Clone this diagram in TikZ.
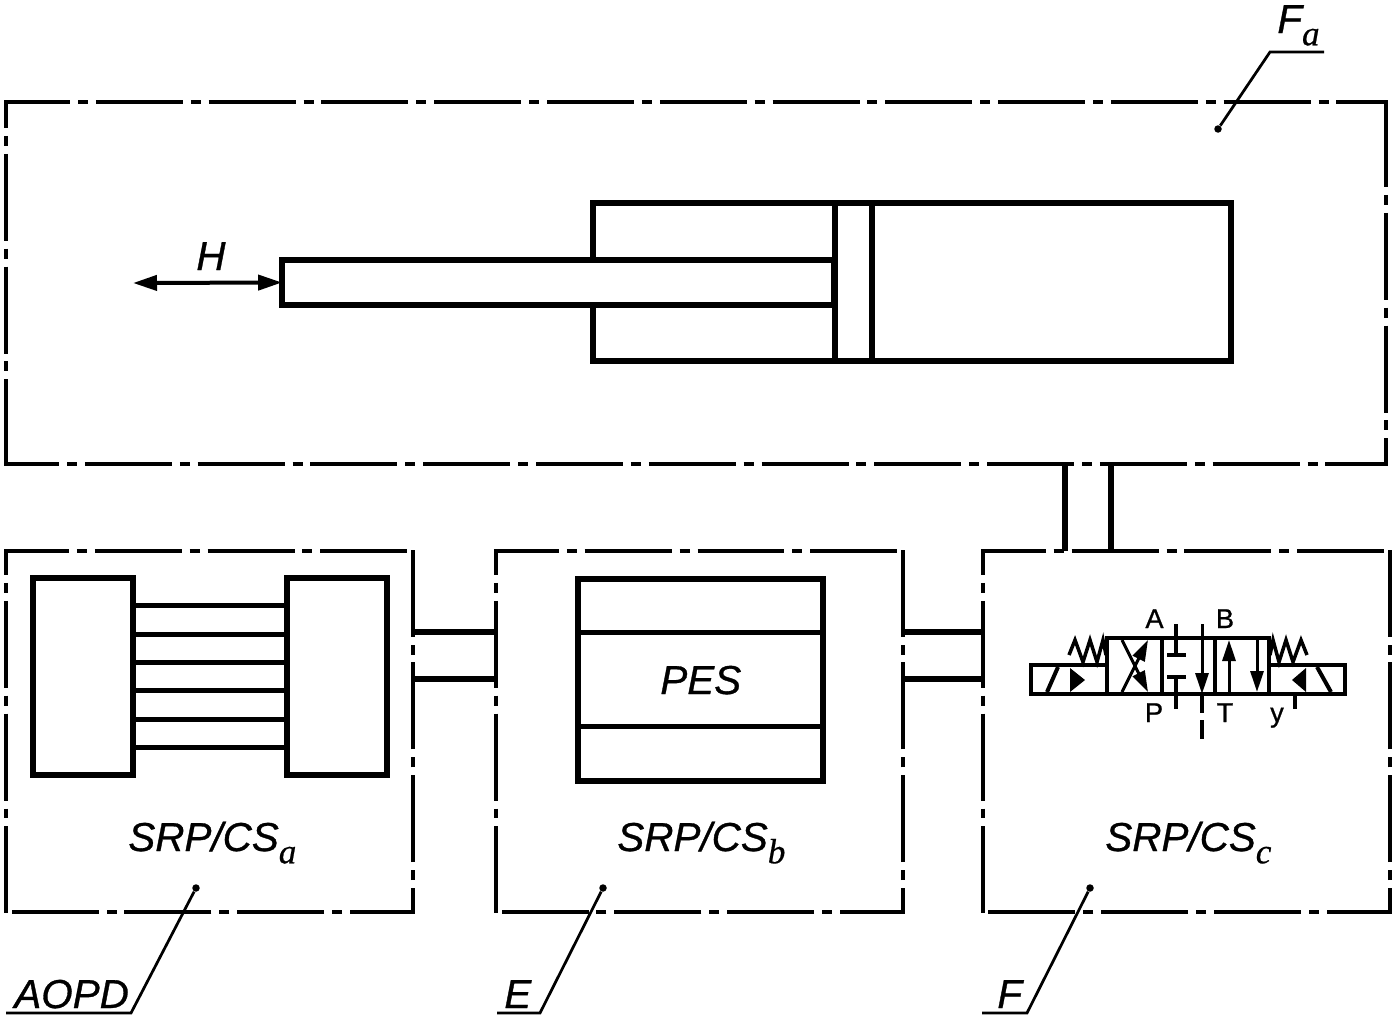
\documentclass[tikz,border=0pt]{standalone}
\usepackage{fontspec}
\setmainfont{Liberation Sans}[FakeBold=0.8]
\newfontfamily\idxfont{Liberation Serif}[FakeBold=0.5]
\usetikzlibrary{arrows.meta, positioning, calc}
\newcommand{\idx}[1]{\raisebox{-7pt}{\fontsize{20pt}{20pt}\selectfont\idxfont\itshape #1}}
\tikzset{
  frame/.style={inner sep=0, outer sep=0},
  lowframe/.style={frame, minimum width=8.14cm, minimum height=7.22cm},
  side/.style={line width=0.08cm, shorten <=-0.04cm, shorten >=-0.04cm, dash pattern=on 1.74cm off 0.158cm on 0.2cm off 0.158cm, dash phase=#1},
  block/.style={draw, line width=0.12cm, inner sep=0, outer sep=0},
  valvebox/.style={draw, line width=0.08cm, inner sep=0, outer sep=0, minimum height=0.58cm},
  wire/.style={line width=0.1cm},
  link/.style={line width=0.11cm},
  thin wire/.style={line width=0.08cm},
  leader/.style={line width=0.055cm},
  pin/.style={circle, fill, inner sep=0, minimum size=0.15cm},
  title/.style={inner sep=0, anchor=base west, font=\fontsize{23pt}{23pt}\selectfont\itshape},
  port/.style={inner sep=0, anchor=base, font=\fontsize{15.5pt}{15.5pt}\selectfont},
  head/.style={-{Triangle[length=0.42cm,width=0.26cm]}, line width=0.06cm},
  tip/.style={{Triangle[length=0.48cm,width=0.3cm]}-{Triangle[length=0.48cm,width=0.3cm]}, line width=0.08cm}
}
\begin{document}
\begin{tikzpicture}[x=0.02cm, y=-0.02cm, node distance=1.66cm]
        \useasboundingbox (0,0) rectangle (1396,1018);
        % frames
        \node[frame, minimum width=27.6cm, minimum height=7.24cm] (fa) at (696,283) {};
        \node[lowframe] (srpa) at (209.5,731.5) {};
        \node[lowframe, right=of srpa] (srpb) {};
        \node[lowframe, right=1.6cm of srpb] (srpc) {};
        \draw[side=0.42cm] (fa.north west) -- (fa.north east);
        \draw[side=0cm] (fa.north east) -- (fa.south east);
        \draw[side=1.18cm] (fa.north west) -- (fa.south west);
        \draw[side=0.64cm] (fa.south west) -- (fa.south east);
        \foreach \f in {srpa,srpb,srpc} {
            \draw[side=0.44cm] (\f.north west) -- (\f.north east);
            \draw[side=1.22cm] (\f.north west) -- (\f.south west);
            \draw[side=1.22cm] (\f.south east) -- (\f.north east);
            \draw[side=0.44cm] (\f.south east) -- (\f.south west);
        }
        % cylinder
        \node[block, minimum width=12.76cm, minimum height=3.16cm] (cyl) at (912,282) {};
        \node[block, fill=white, minimum width=11.04cm, minimum height=0.9cm, anchor=east] (rod) at (834,282.5) {};
        \node[block, minimum width=0.74cm, minimum height=3.16cm] (piston) at (853,282) {};
        \coordinate (hend) at (133,283);
        \draw[tip] (hend) -- (rod.west);
        \node[title] (hlabel) at (196,270) {H};
        % sensor side
        \node[block, minimum width=2cm, minimum height=3.96cm] (ina) at (83,676.5) {};
        \node[block, minimum width=2cm, minimum height=3.96cm] (inb) at (337,676.5) {};
        \foreach \y in {605.5,634,662.5,690.5,719,747.5}
            \draw[wire] (ina.east |- 0,\y) -- (inb.west |- 0,\y);
        \node[title] (laba) at (128,851) {SRP/CS\idx{a}};
        % logic
        \node[block, minimum width=4.9cm, minimum height=4.04cm] (pes) at (700.5,680) {};
        \node[title] (pestext) at (660,694) {PES};
        \draw[wire] (pes.west |- 0,632.5) -- (pes.east |- 0,632.5);
        \draw[wire] (pes.west |- 0,726) -- (pes.east |- 0,726);
        \node[title] (labb) at (617,851) {SRP/CS\idx{b}};
        % links
        \draw[link] ([yshift=-1.62cm]srpa.north east) -- ([yshift=-1.62cm]srpb.north west);
        \draw[link] ([yshift=-2.56cm]srpa.north east) -- ([yshift=-2.56cm]srpb.north west);
        \draw[link] ([yshift=-1.62cm]srpb.north east) -- ([yshift=-1.62cm]srpc.north west);
        \draw[link] ([yshift=-2.56cm]srpb.north east) -- ([yshift=-2.56cm]srpc.north west);
        \draw[link] ([xshift=1.64cm]srpc.north west) -- ([xshift=1.64cm]srpc.north west |- fa.south);
        \draw[link] ([xshift=2.56cm]srpc.north west) -- ([xshift=2.56cm]srpc.north west |- fa.south);
        % valve
        \node[valvebox, minimum width=3.24cm, minimum height=1.12cm] (body) at (1188,666) {};
        \node[valvebox, minimum width=1.52cm, anchor=south east] (soll) at (body.south west) {};
        \node[valvebox, minimum width=1.52cm, anchor=south west] (solr) at (body.south east) {};
        \draw[thin wire] (1162,638) -- (1162,694);
        \draw[thin wire] (1215,638) -- (1215,694);
        \draw[head] (1122,640) -- (1148,692);
        \draw[head] (1122,692) -- (1148,640);
        \draw[thin wire] (1176,624) -- (1176,655);
        \draw[thin wire] (1167,655) -- (1186,655);
        \draw[thin wire] (1176,677) -- (1176,709);
        \draw[thin wire] (1167,677) -- (1186,677);
        \draw[head] (1202,624) -- (1202,694);
        \draw[thin wire] (1202,694) -- (1202,713);
        \draw[thin wire] (1202,720) -- (1202,739);
        \draw[head] (1229,692) -- (1229,640);
        \draw[head] (1257,640) -- (1257,692);
        \draw[thin wire] (1295,694) -- (1295,709);
        \draw[line width=0.07cm] (1069,655) -- (1075,640) -- (1083,662) -- (1090,640) -- (1097,662) -- (1103,640) -- (1106,655);
        \draw[line width=0.07cm] (1307,655) -- (1301,640) -- (1293,662) -- (1286,640) -- (1279,662) -- (1273,640) -- (1270,655);
        \draw[thin wire] (1047,692) -- (1058,667);
        \draw[thin wire] (1317,667) -- (1331,692);
        \fill (1070,668) -- (1085,680) -- (1070,692) -- cycle;
        \fill (1306,668) -- (1292,680) -- (1306,692) -- cycle;
        \node[port] (pa) at (1154.5,628) {A};
        \node[port] (pb) at (1225,628) {B};
        \node[port] (pp) at (1154,722) {P};
        \node[port] (pt) at (1225,722) {T};
        \node[port] (py) at (1277,722) {y};
        \node[title] (labc) at (1105,851) {SRP/CS\idx{c}};
        % callouts
        \node[pin] (pina) at (196,888) {};
        \node[pin] (pinb) at (603,888) {};
        \node[pin] (pinc) at (1090,888) {};
        \node[pin] (pinf) at (1218,129) {};
        \coordinate (elba) at (131,1013);
        \coordinate (elbb) at (540,1013);
        \coordinate (elbc) at (1027,1013);
        \coordinate (elbf) at (1270,52);
        \coordinate (enda) at (6,1013);
        \coordinate (endb) at (497,1013);
        \coordinate (endc) at (982,1013);
        \coordinate (endf) at (1324,52);
        \draw[leader] (pina) -- (elba) -- (enda);
        \draw[leader] (pinb) -- (elbb) -- (endb);
        \draw[leader] (pinc) -- (elbc) -- (endc);
        \draw[leader] (pinf) -- (elbf) -- (endf);
        \node[title] (aopd) at (14,1008) {AOPD};
        \node[title] (lbe) at (504,1008) {E};
        \node[title] (lbf) at (997,1008) {F};
        \node[title] (lbfa) at (1277,33) {F\idx{a}};
    \end{tikzpicture}
\end{document}
